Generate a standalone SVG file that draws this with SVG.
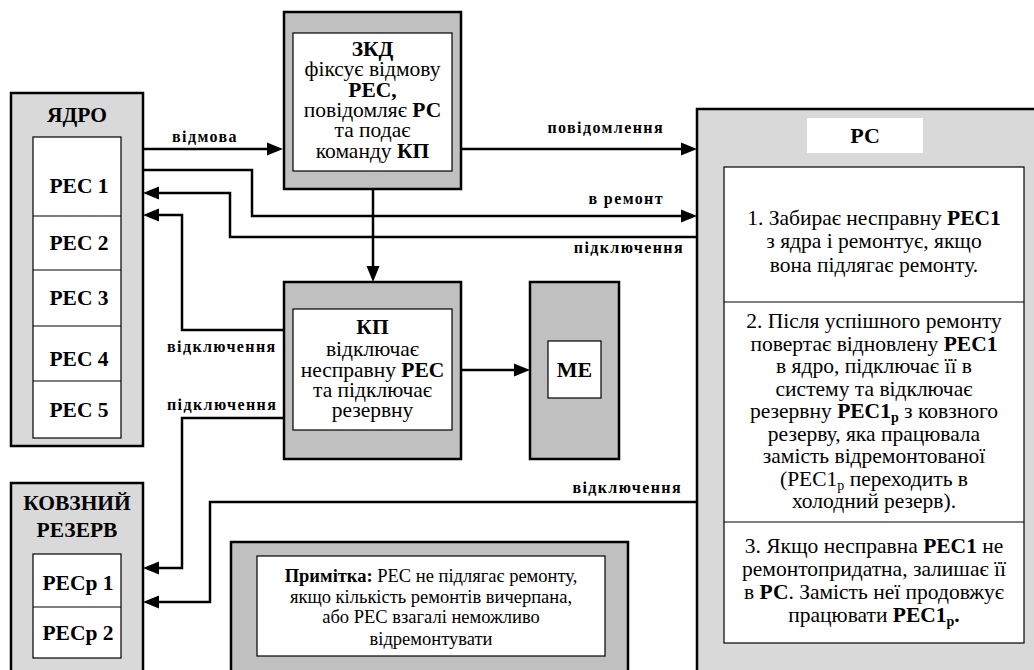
<svg xmlns="http://www.w3.org/2000/svg" width="1034" height="670" viewBox="0 0 1034 670" font-family="Liberation Serif">
<rect width="1034" height="670" fill="#fff"/>

<g id="yadro">
<rect x="11" y="93" width="132" height="353" fill="#d9d9d9" stroke="#000" stroke-width="2.5"/>
<rect x="33" y="137" width="88" height="301" fill="#fff" stroke="#000" stroke-width="1.2"/>
<g stroke="#000" stroke-width="1.2">
<line x1="33" y1="216" x2="121" y2="216"/>
<line x1="33" y1="270" x2="121" y2="270"/>
<line x1="33" y1="326" x2="121" y2="326"/>
<line x1="33" y1="381" x2="121" y2="381"/>
</g>
<text font-family="Liberation Serif" font-size="21.5" font-weight="bold" text-anchor="middle" x="77" y="122">ЯДРО</text>
<text font-family="Liberation Serif" font-size="21.5" font-weight="bold" text-anchor="middle" x="79" y="193">РЕС 1</text>
<text font-family="Liberation Serif" font-size="21.5" font-weight="bold" text-anchor="middle" x="79" y="250">РЕС 2</text>
<text font-family="Liberation Serif" font-size="21.5" font-weight="bold" text-anchor="middle" x="79" y="305">РЕС 3</text>
<text font-family="Liberation Serif" font-size="21.5" font-weight="bold" text-anchor="middle" x="79" y="366">РЕС 4</text>
<text font-family="Liberation Serif" font-size="21.5" font-weight="bold" text-anchor="middle" x="79" y="417">РЕС 5</text>
</g>

<g id="kovzniy">
<rect x="11" y="483" width="132" height="200" fill="#d9d9d9" stroke="#000" stroke-width="2.5"/>
<rect x="33" y="554" width="88" height="104" fill="#fff" stroke="#000" stroke-width="1.2"/>
<line x1="33" y1="607" x2="121" y2="607" stroke="#000" stroke-width="1.2"/>
<text font-family="Liberation Serif" font-size="21.5" font-weight="bold" text-anchor="middle" x="77" y="510">КОВЗНИЙ</text>
<text font-family="Liberation Serif" font-size="21.5" font-weight="bold" text-anchor="middle" x="77" y="537">РЕЗЕРВ</text>
<text font-family="Liberation Serif" font-size="21.5" font-weight="bold" text-anchor="middle" x="78" y="590">РЕСр 1</text>
<text font-family="Liberation Serif" font-size="21.5" font-weight="bold" text-anchor="middle" x="78" y="640">РЕСр 2</text>
</g>

<g id="zkd">
<rect x="284" y="12" width="177" height="177" fill="#c0c0c0" stroke="#000" stroke-width="2.5"/>
<rect x="293" y="33" width="159" height="138" fill="#fff" stroke="#000" stroke-width="1.2"/>
<text font-family="Liberation Serif" font-size="21.5" text-anchor="middle" x="372.5" y="56" font-weight="bold">ЗКД</text>
<text font-family="Liberation Serif" font-size="21.5" text-anchor="middle" x="372.5" y="76">фіксує відмову</text>
<text font-family="Liberation Serif" font-size="21.5" text-anchor="middle" x="372.5" y="97" font-weight="bold">РЕС,</text>
<text font-family="Liberation Serif" font-size="21.5" text-anchor="middle" x="372.5" y="117">повідомляє <tspan font-weight="bold">РС</tspan></text>
<text font-family="Liberation Serif" font-size="21.5" text-anchor="middle" x="372.5" y="137">та подає</text>
<text font-family="Liberation Serif" font-size="21.5" text-anchor="middle" x="372.5" y="158">команду <tspan font-weight="bold">КП</tspan></text>
</g>

<g id="kp">
<rect x="284" y="282" width="177" height="177" fill="#c0c0c0" stroke="#000" stroke-width="2.5"/>
<rect x="293" y="309" width="159" height="121" fill="#fff" stroke="#000" stroke-width="1.2"/>
<text font-family="Liberation Serif" font-size="21.5" text-anchor="middle" x="372.5" y="334" font-weight="bold">КП</text>
<text font-family="Liberation Serif" font-size="21.5" text-anchor="middle" x="372.5" y="356">відключає</text>
<text font-family="Liberation Serif" font-size="21.5" text-anchor="middle" x="372.5" y="377">несправну <tspan font-weight="bold">РЕС</tspan></text>
<text font-family="Liberation Serif" font-size="21.5" text-anchor="middle" x="372.5" y="397">та підключає</text>
<text font-family="Liberation Serif" font-size="21.5" text-anchor="middle" x="372.5" y="417">резервну</text>
</g>

<g id="me">
<rect x="530" y="282" width="89" height="177" fill="#c0c0c0" stroke="#000" stroke-width="2.5"/>
<rect x="548" y="341" width="53" height="57" fill="#fff" stroke="#000" stroke-width="1.2"/>
<text font-family="Liberation Serif" font-size="22" font-weight="bold" text-anchor="middle" x="574.5" y="377">МЕ</text>
</g>

<g id="note">
<rect x="231" y="542" width="397" height="140" fill="#c0c0c0" stroke="#000" stroke-width="2.5"/>
<rect x="257" y="556" width="348" height="100" fill="#fff" stroke="#000" stroke-width="1.2"/>
<text font-family="Liberation Serif" font-size="18.5" text-anchor="middle" x="431" y="582"><tspan font-weight="bold">Примітка:</tspan> РЕС не підлягає ремонту,</text>
<text font-family="Liberation Serif" font-size="18.5" text-anchor="middle" x="431" y="603">якщо кількість ремонтів вичерпана,</text>
<text font-family="Liberation Serif" font-size="18.5" text-anchor="middle" x="431" y="623">або РЕС взагалі неможливо</text>
<text font-family="Liberation Serif" font-size="18.5" text-anchor="middle" x="431" y="645">відремонтувати</text>
</g>

<g id="rs">
<rect x="697" y="109" width="350" height="580" fill="#d9d9d9" stroke="#000" stroke-width="2.5"/>
<rect x="807" y="118" width="116" height="35" fill="#fff"/>
<text font-family="Liberation Serif" font-size="22" font-weight="bold" text-anchor="middle" x="865" y="143">РС</text>
<rect x="724" y="167" width="300" height="476" fill="#fff" stroke="#000" stroke-width="1.2"/>
<line x1="724" y1="302" x2="1024" y2="302" stroke="#000" stroke-width="1.2"/>
<line x1="724" y1="522" x2="1024" y2="522" stroke="#000" stroke-width="1.2"/>
<text font-family="Liberation Serif" font-size="21.5" text-anchor="middle" x="874" y="225">1. Забирає несправну <tspan font-weight="bold">РЕС1</tspan></text>
<text font-family="Liberation Serif" font-size="21.5" text-anchor="middle" x="874" y="248">з ядра і ремонтує, якщо</text>
<text font-family="Liberation Serif" font-size="21.5" text-anchor="middle" x="874" y="272">вона підлягає ремонту.</text>
<text font-family="Liberation Serif" font-size="21.5" text-anchor="middle" x="874" y="328">2. Після успішного ремонту</text>
<text font-family="Liberation Serif" font-size="21.5" text-anchor="middle" x="874" y="350.5">повертає відновлену <tspan font-weight="bold">РЕС1</tspan></text>
<text font-family="Liberation Serif" font-size="21.5" text-anchor="middle" x="874" y="373">в ядро, підключає її в</text>
<text font-family="Liberation Serif" font-size="21.5" text-anchor="middle" x="874" y="395.5">систему та відключає</text>
<text font-family="Liberation Serif" font-size="21.5" text-anchor="middle" x="874" y="418">резервну <tspan font-weight="bold">РЕС1</tspan><tspan font-weight="bold" dy="4" font-size="14">р</tspan><tspan dy="-4"> з ковзного</tspan></text>
<text font-family="Liberation Serif" font-size="21.5" text-anchor="middle" x="874" y="440.5">резерву, яка працювала</text>
<text font-family="Liberation Serif" font-size="21.5" text-anchor="middle" x="874" y="463">замість відремонтованої</text>
<text font-family="Liberation Serif" font-size="21.5" text-anchor="middle" x="874" y="485.5">(РЕС1<tspan dy="4" font-size="14">р</tspan><tspan dy="-4"> переходить в</tspan></text>
<text font-family="Liberation Serif" font-size="21.5" text-anchor="middle" x="874" y="508">холодний резерв).</text>
<text font-family="Liberation Serif" font-size="21.5" text-anchor="middle" x="874" y="553">3. Якщо несправна <tspan font-weight="bold">РЕС1</tspan>  не</text>
<text font-family="Liberation Serif" font-size="21.5" text-anchor="middle" x="874" y="576">ремонтопридатна, залишає її</text>
<text font-family="Liberation Serif" font-size="21.5" text-anchor="middle" x="874" y="599">в <tspan font-weight="bold">РС</tspan>. Замість неї продовжує</text>
<text font-family="Liberation Serif" font-size="21.5" text-anchor="middle" x="874" y="622">працювати <tspan font-weight="bold">РЕС1</tspan><tspan font-weight="bold" dy="4" font-size="14">р</tspan><tspan font-weight="bold" dy="-4">.</tspan></text>
</g>

<g id="connectors">
<g fill="none" stroke="#000" stroke-width="2.5">
<path d="M143,149 H270"/>
<path d="M461,149 H684"/>
<path d="M143,170 H252 V216 H684"/>
<path d="M697,237 H230 V193 H156"/>
<path d="M373,189 V269"/>
<path d="M284,330 H182 V215 H156"/>
<path d="M284,418 H182 V568 H156"/>
<path d="M461,370 H517"/>
<path d="M697,502 H210 V602 H156"/>
</g>
<g fill="#000">
<polygon points="267,142.5 283,149 267,155.5"/>
<polygon points="681,142.5 697,149 681,155.5"/>
<polygon points="681,209.5 697,216 681,222.5"/>
<polygon points="159,186.5 143,193 159,199.5"/>
<polygon points="366.5,266 373,282 379.5,266"/>
<polygon points="159,208.5 143,215 159,221.5"/>
<polygon points="159,561.5 143,568 159,574.5"/>
<polygon points="514,363.5 530,370 514,376.5"/>
<polygon points="159,595.5 143,602 159,608.5"/>
</g>
<text font-family="Liberation Serif" font-size="16" font-weight="bold" letter-spacing="1.4" x="172" y="142">відмова</text>
<text font-family="Liberation Serif" font-size="16" font-weight="bold" letter-spacing="1.4" x="664" y="133" text-anchor="end">повідомлення</text>
<text font-family="Liberation Serif" font-size="16" font-weight="bold" letter-spacing="1.4" x="664" y="204" text-anchor="end">в ремонт</text>
<text font-family="Liberation Serif" font-size="16" font-weight="bold" letter-spacing="1.4" x="684" y="253" text-anchor="end">підключення</text>
<text font-family="Liberation Serif" font-size="16" font-weight="bold" letter-spacing="1.4" x="167" y="352">відключення</text>
<text font-family="Liberation Serif" font-size="16" font-weight="bold" letter-spacing="1.4" x="167" y="410">підключення</text>
<text font-family="Liberation Serif" font-size="16" font-weight="bold" letter-spacing="1.4" x="682" y="493" text-anchor="end">відключення</text>
</g>
</svg>
